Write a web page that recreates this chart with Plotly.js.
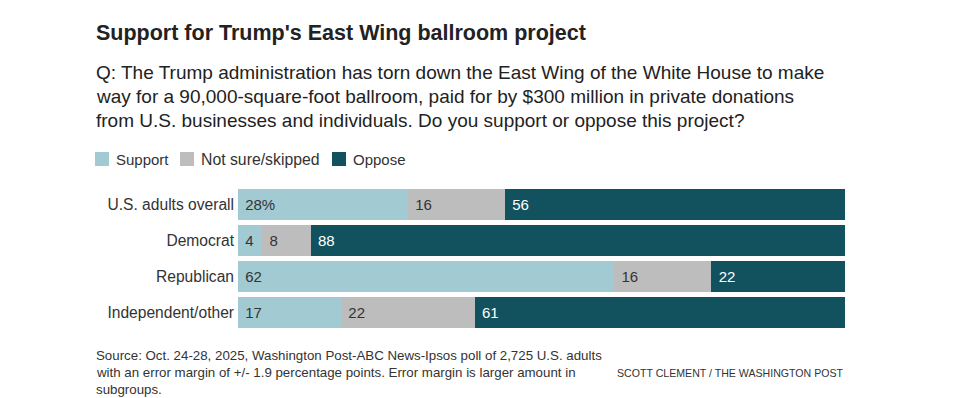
<!DOCTYPE html>
<html><head><meta charset="utf-8">
<script src="https://cdn.plot.ly/plotly-3.0.1.min.js"></script>
<style>body{margin:0;background:#fff}#c{width:960px;height:398px}</style>
</head><body><div id="c"></div>
<script>
const categories = ["U.S. adults overall", "Democrat", "Republican", "Independent/other"];
const seriesNames = ["Support", "Not sure/skipped", "Oppose"];
const support = [28, 4, 62, 17];
const notSure = [16, 8, 16, 22];
const oppose = [56, 88, 22, 61];
const supportLabels = ["28%", "4", "62", "17"];

const colors = ["#a1cad3", "#bdbdbd", "#12525e"];
const textColors = ["#333333", "#333333", "#ffffff"];
const FONT = "Liberation Sans, Arial, sans-serif";

const L = 238, R = 115, T = 186, B = 67, W = 960, H = 398;
const PW = W - L - R, PH = H - T - B;
const X = px => (px - L) / PW;
const Y = py => (H - B - py) / PH;

const values = [support, notSure, oppose];
const traces = values.map((v, i) => ({
  type: "bar", orientation: "h", name: seriesNames[i],
  y: categories, x: v,
  text: i === 0 ? supportLabels : v.map(String),
  texttemplate: "\u00a0%{text}",
  textposition: "inside", insidetextanchor: "start",
  insidetextfont: {family: FONT, size: 15, color: textColors[i]},
  marker: {color: colors[i], line: {width: 0}},
  hoverinfo: "none", showlegend: false
}));

const ann = [];
const shapes = [];
ann.push({text: "<b>Support for Trump's East Wing ballroom project</b>", x: X(94), y: Y(33),
  xanchor: "left", yanchor: "middle", font: {family: FONT, size: 21.5, color: "#222"}});
const sub = ["Q: The Trump administration has torn down the East Wing of the White House to make",
  "way for a 90,000-square-foot ballroom, paid for by $300 million in private donations",
  "from U.S. businesses and individuals. Do you support or oppose this project?"];
sub.forEach((s, i) => ann.push({text: s, x: X(94), y: Y(72 + 24 * i), xanchor: "left", yanchor: "middle",
  font: {family: FONT, size: 19, color: "#222"}}));

const legX = [95, 180, 332];
seriesNames.forEach((n, i) => {
  shapes.push({type: "rect", xref: "paper", yref: "paper", x0: X(legX[i]), x1: X(legX[i] + 14),
    y0: Y(166), y1: Y(152), fillcolor: colors[i], line: {width: 0}});
  ann.push({text: n, x: X(legX[i] + 19), y: Y(159), xanchor: "left", yanchor: "middle",
    font: {family: FONT, size: i === 1 ? 15.8 : 15, color: "#333"}});
});

const foot = ["Source: Oct. 24-28, 2025, Washington Post-ABC News-Ipsos poll of 2,725 U.S. adults",
  "with an error margin of +/- 1.9 percentage points. Error margin is larger amount in",
  "subgroups."];
foot.forEach((s, i) => ann.push({text: s, x: X(94), y: Y(355 + 17 * i), xanchor: "left", yanchor: "middle",
  font: {family: FONT, size: 13.3, color: "#333"}}));
ann.push({text: "SCOTT CLEMENT / THE WASHINGTON POST", x: X(846), y: Y(373), xanchor: "right", yanchor: "middle",
  font: {family: FONT, size: 10.6, color: "#333"}});
ann.forEach(a => { a.xref = "paper"; a.yref = "paper"; a.showarrow = false; });

Plotly.newPlot("c", traces, {
  width: W, height: H, barmode: "stack", bargap: 0.15,
  margin: {l: L, r: R, t: T, b: B, pad: 0},
  paper_bgcolor: "#fff", plot_bgcolor: "#fff",
  xaxis: {range: [0, 100], visible: false, fixedrange: true},
  yaxis: {autorange: "reversed", showgrid: false, zeroline: false, showline: false, ticks: "",
    ticklabelstandoff: 3, tickfont: {family: FONT, size: 15.6, color: "#333"}},
  annotations: ann, shapes: shapes, showlegend: false
}, {staticPlot: true});
</script></body></html>
